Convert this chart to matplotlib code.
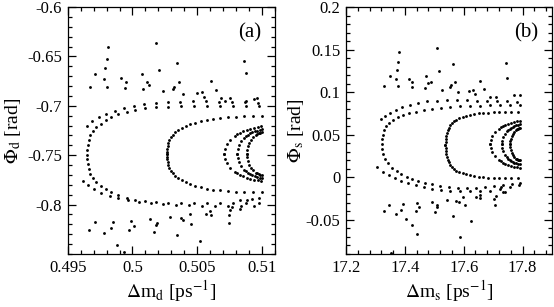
import matplotlib
matplotlib.use("Agg")
import matplotlib.pyplot as plt
from matplotlib.ticker import MultipleLocator, FixedLocator, FixedFormatter

plt.rcParams['font.family'] = ['Liberation Serif', 'DejaVu Serif']
plt.rcParams['mathtext.fontset'] = 'stix'
plt.rcParams['axes.unicode_minus'] = False

# ---------------- panel (a) data ----------------
a_inner_x = [.50977, .50877, .50777, .50677, .50577, .50477, .50377, .50277, .50185, .50100, .50023,
             .49954, .49892, .49838, .49792, .49754, .49719, .49692, .49673, .49662, .49655, .49652,
             .49651,
             .49652, .49655, .49662, .49673, .49692, .49719, .49754, .49792, .49838, .49892, .49954,
             .50023, .50100, .50185, .50277, .50377, .50477, .50577, .50677, .50777, .50877, .50977]
a_inner_y = [-.7005, -.7005, -.7005, -.7005, -.7003, -.7003, -.7005, -.701, -.7015, -.7025, -.704,
             -.706, -.7085, -.7115, -.7145, -.718, -.7215, -.7255, -.730, -.735, -.740, -.745,
             -.7495,
             -.754, -.759, -.764, -.769, -.7735, -.7775, -.781, -.7845, -.7875, -.7905, -.793,
             -.795, -.7965, -.7975, -.798, -.7985, -.7987, -.7987, -.7985, -.7985, -.7985, -.7985]
a_outer_up_x = [.49646, .49687, .49738, .49798, .49862, .49933, .50010, .50092, .50182, .50272,
                .50369, .50469, .50569, .50669, .50769, .50869, .50969]
a_outer_up_y = [-.720, -.7155, -.7115, -.708, -.705, -.7025, -.7003, -.6985, -.697, -.6963,
                -.6958, -.6955, -.6955, -.6958, -.696, -.6965, -.697]
a_outer_lo_x = [.49618, .49654, .49704, .49759, .49823, .49892, .49969, .50054, .50146, .50238,
                .50338, .50438, .50538, .50638, .50738, .50838, .50938]
a_outer_lo_y = [-.776, -.7805, -.7845, -.788, -.791, -.7935, -.7955, -.7972, -.7985, -.7995,
                -.8002, -.8007, -.801, -.8012, -.8013, -.8013, -.8012]
a_mid_x = [.50267, .50268, .50269, .50272, .50277, .50285, .50296, .50312, .50331, .50354, .50381,
           .50412, .50446, .50485, .50527, .50573, .50623, .50677, .50735, .50796, .50862, .50931, .51000]
a_mid_top = [-.749, -.7465, -.744, -.741, -.738, -.735, -.732, -.7295, -.727, -.7245, -.7225,
             -.7205, -.7185, -.717, -.7155, -.7142, -.7132, -.7123, -.7116, -.7111, -.7108, -.7106, -.7105]
a_mid_bot = [-.749, -.7515, -.754, -.757, -.760, -.763, -.766, -.7685, -.771, -.7735, -.7755,
             -.7775, -.7795, -.781, -.7825, -.7838, -.7848, -.7857, -.7864, -.7869, -.7872, -.7874, -.7875]
a_s1_x = [.50708, .50713, .50729, .50754, .50789, .50809, .50832, .50856, .50881, .50908, .50936,
          .50965, .50994]
a_s1_top = [-.7485, -.7436, -.7389, -.7345, -.7305, -.7287, -.7271, -.7256, -.7243, -.7231, -.7222,
            -.7215, -.7209]
a_s1_bot = [-.7485, -.7534, -.7581, -.7625, -.7665, -.7683, -.7699, -.7714, -.7727, -.7739, -.7748,
            -.7755, -.7761]
a_s2_x = [.50810, .50814, .50824, .50841, .50864, .50877, .50892, .50908, .50925, .50943, .50961,
          .50981, .51000]
a_s2_top = [-.7485, -.7442, -.7399, -.7360, -.7324, -.7308, -.7293, -.7280, -.7268, -.7258, -.7250,
            -.7244, -.7239]
a_s2_bot = [-.7485, -.7528, -.7571, -.7610, -.7646, -.7662, -.7677, -.7690, -.7702, -.7712, -.7720,
            -.7726, -.7731]
a_s3_x = [.50882, .50884, .50890, .50901, .50914, .50931, .50951, .50962, .50973, .50984, .50996]
a_s3_top = [-.7485, -.7447, -.7410, -.7375, -.7344, -.7316, -.7294, -.7286, -.7278, -.7272, -.7268]
a_s3_bot = [-.7485, -.7523, -.7560, -.7595, -.7626, -.7654, -.7676, -.7684, -.7692, -.7698, -.7702]
a_sc_up_x = [.49669, .49713, .49810, .49805, .49787, .49777, .49802, .49908, .49949, .49941, .50072,
             .50110, .50128, .50085, .50185, .50208, .50233, .50341, .50356, .50321, .50310, .50387,
             .50608, .50646, .50498, .50533, .50549, .50862, .50875, .50687, .50713, .50752, .50938,
             .50875, .50960]
a_sc_up_y = [-.6807, -.668, -.6407, -.6527, -.6613, -.6733, -.6807, -.672, -.676, -.6817, -.6683,
             -.6763, -.679, -.683, -.636, -.6637, -.6847, -.6563, -.6763, -.6813, -.6833, -.6877,
             -.6753, -.6843, -.687, -.6863, -.6907, -.6547, -.6673, -.692, -.6947, -.6923, -.6933,
             -.6953, -.6925]
a_sc_lo_x = [.49664, .49713, .49777, .49831, .49848, .49882, .49938, .49975, .49987, .50008, .50133,
             .50164, .50182, .50190, .50287, .50341, .50372, .50392, .50444, .50454, .50518, .50564,
             .50608, .50602, .50744, .50746, .50752, .50767, .50828, .50923, .50977, .50833, .50885]
a_sc_lo_y = [-.826, -.818, -.8287, -.824, -.8177, -.8407, -.848, -.8253, -.8167, -.8217, -.8147,
             -.8273, -.8207, -.8183, -.8127, -.831, -.814, -.816, -.8097, -.8193, -.837, -.8097,
             -.8103, -.8063, -.811, -.8187, -.8053, -.8027, -.8043, -.794, -.793, -.7957, -.7957]

# ---------------- panel (b) data ----------------
b_inner_up_x = [17.7898, 17.7559, 17.7220, 17.6881, 17.6542, 17.6203, 17.5864, 17.5525, 17.5220,
                17.4915, 17.4644, 17.4390, 17.4153, 17.3949, 17.3763, 17.3610, 17.3475, 17.3373,
                17.3298, 17.3254, 17.3234, 17.3231]
b_inner_up_y = [.0845, .0845, .0845, .0844, .0842, .0839, .0834, .0825, .0816, .0804, .0790, .0773,
                .0754, .0730, .0705, .0675, .0640, .0599, .0552, .0499, .0447, .0388]
b_inner_lo_x = [17.3237, 17.3264, 17.3322, 17.3424, 17.3559, 17.3719, 17.3881, 17.4068, 17.4254,
                17.4458, 17.4678, 17.4915, 17.5186, 17.5492, 17.5797, 17.6102, 17.6407, 17.6712,
                17.7017, 17.7322, 17.7627, 17.7898]
b_inner_lo_y = [.0329, .0271, .0218, .0165, .0113, .0069, .0036, .0007, -.0016, -.0040, -.0063,
                -.0084, -.0102, -.0114, -.0120, -.0122, -.0120, -.0114, -.0104, -.0093, -.0081, -.0069]
b_outer_up_x = [17.3186, 17.3322, 17.3492, 17.3695, 17.3915, 17.4169, 17.4441, 17.4746, 17.5085,
                17.5424, 17.5763, 17.6102, 17.6441, 17.6780, 17.7119, 17.7458, 17.7797]
b_outer_up_y = [.0681, .0722, .0757, .0793, .0822, .0851, .0875, .0892, .0902, .0904, .0906, .0904,
                .0902, .0898, .0894, .0892, .0889]
b_outer_lo_x = [17.3068, 17.3254, 17.3458, 17.3661, 17.3864, 17.4102, 17.4373, 17.4644, 17.4915,
                17.5220, 17.5525, 17.5864, 17.6203, 17.6542, 17.6881, 17.7220, 17.7559, 17.7864]
b_outer_lo_y = [.0118, .0066, .0025, -.0011, -.0040, -.0067, -.0093, -.0114, -.0134, -.0149, -.0159,
                -.0165, -.0166, -.0163, -.0155, -.0139, -.0116, -.0087]
b_mid_x = [17.5380, 17.5383, 17.5390, 17.5403, 17.5424, 17.5451, 17.5485, 17.5532, 17.5593, 17.5668,
           17.5753, 17.5851, 17.5959, 17.6078, 17.6210, 17.6353, 17.6505, 17.6668, 17.6841, 17.7024,
           17.7214, 17.7414, 17.7620, 17.7831]
b_mid_top = [.0379, .0414, .0449, .0484, .0518, .0551, .0583, .0612, .0637, .0659, .0679, .0695,
             .0709, .0722, .0733, .0742, .0750, .0756, .0761, .0764, .0767, .0769, .0770, .0771]
b_mid_bot = [.0379, .0344, .0309, .0274, .0240, .0207, .0175, .0146, .0121, .0099, .0079, .0063,
             .0049, .0036, .0025, .0016, .0008, .0002, -.0003, -.0006, -.0009, -.0011, -.0012, -.0013]
b_s1_x = [17.6905, 17.6923, 17.6978, 17.7066, 17.7186, 17.7257, 17.7334, 17.7418, 17.7506, 17.7599,
          17.7696, 17.7796, 17.7898]
b_s1_top = [.0388, .0437, .0484, .0529, .0569, .0587, .0603, .0618, .0631, .0643, .0652, .0659, .0665]
b_s1_bot = [.0388, .0339, .0292, .0248, .0207, .0189, .0173, .0158, .0145, .0133, .0124, .0117, .0111]
b_s2_x = [17.7298, 17.7309, 17.7342, 17.7395, 17.7468, 17.7511, 17.7557, 17.7608, 17.7661, 17.7717,
          17.7776, 17.7836, 17.7898]
b_s2_top = [.0388, .0430, .0470, .0508, .0542, .0558, .0572, .0585, .0596, .0606, .0614, .0620, .0624]
b_s2_bot = [.0388, .0346, .0306, .0268, .0234, .0218, .0204, .0191, .0180, .0171, .0163, .0156, .0152]
b_s3_x = [17.7583, 17.7589, 17.7606, 17.7634, 17.7672, 17.7719, 17.7774, 17.7803, 17.7834, 17.7865,
          17.7898]
b_s3_top = [.0388, .0422, .0454, .0485, .0512, .0536, .0555, .0563, .0569, .0574, .0578]
b_s3_bot = [.0388, .0355, .0322, .0291, .0264, .0240, .0221, .0213, .0207, .0202, .0198]
b_sc_up_x = [17.3298, 17.3492, 17.3719, 17.3685, 17.3797, 17.3773, 17.3773, 17.4136, 17.4247, 17.4247,
             17.4712, 17.4790, 17.4905, 17.4701, 17.5108, 17.5163, 17.5264, 17.5525, 17.5583, 17.5637,
             17.5695, 17.5807, 17.6169, 17.6315, 17.6373, 17.6566, 17.6688, 17.6881, 17.7085, 17.7447,
             17.7481, 17.7705, 17.7900]
b_sc_up_y = [.1074, .1191, .1261, .1152, .1469, .1359, .1074, .1159, .1121, .1059, .1191, .1106,
             .1124, .1047, .1523, .1250, .1027, .1059, .1086, .1328, .1124, .1007, .1019, .1027,
             .0980, .1132, .1035, .0948, .0948, .1340, .1164, .0968, .0967]
b_sc_lo_x = [17.3458, 17.3288, 17.3685, 17.3875, 17.3932, 17.4044, 17.4247, 17.4363, 17.4417, 17.4485,
             17.4407, 17.4925, 17.5017, 17.5095, 17.5085, 17.5434, 17.5637, 17.5753, 17.5831, 17.5888,
             17.5976, 17.6034, 17.6261, 17.6417, 17.6542, 17.6566, 17.7041, 17.7051, 17.7108, 17.7332,
             17.7278, 17.7390, 17.3525]
b_sc_lo_y = [-.0321, -.0400, -.0430, -.0380, -.0313, -.0489, -.0564, -.0392, -.0301, -.0353,
             -.0665, -.0290, -.0412, -.0321, -.0348, -.0263, -.0450, -.0283, -.0294, -.0705,
             -.0231, -.0329, -.0517, -.0231, -.0204, -.0243, -.0251, -.0329, -.0224, -.0177,
             -.0114, -.0177, -.0890]

# ---------------- axes / ticks ----------------
a_xticks = [0.495, 0.5, 0.505, 0.51]
a_xlabels = ["0.495", "0.5", "0.505", "0.51"]
a_yticks = [-0.8, -0.75, -0.7, -0.65, -0.6]
a_ylabels = ["-0.8", "-0.75", "-0.7", "-0.65", "-0.6"]
b_xticks = [17.2, 17.4, 17.6, 17.8]
b_xlabels = ["17.2", "17.4", "17.6", "17.8"]
b_yticks = [-0.05, 0.0, 0.05, 0.1, 0.15, 0.2]
b_ylabels = ["-0.05", "0", "0.05", "0.1", "0.15", "0.2"]

W, H = 554, 307
fig = plt.figure(figsize=(W / 100, H / 100), dpi=100)
ax1 = fig.add_axes([67.7 / W, 53 / H, 207.3 / W, 247 / H])
ax2 = fig.add_axes([346 / W, 53 / H, 206 / W, 247 / H])

S = 4.2
def dots(ax, x, y):
    ax.scatter(x, y, s=S, c='black', marker='o', linewidths=0, clip_on=True)

for x, y in [(a_inner_x, a_inner_y), (a_outer_up_x, a_outer_up_y), (a_outer_lo_x, a_outer_lo_y),
             (a_mid_x, a_mid_top), (a_mid_x, a_mid_bot),
             (a_s1_x, a_s1_top), (a_s1_x, a_s1_bot), (a_s2_x, a_s2_top), (a_s2_x, a_s2_bot),
             (a_s3_x, a_s3_top), (a_s3_x, a_s3_bot),
             (a_sc_up_x, a_sc_up_y), (a_sc_lo_x, a_sc_lo_y)]:
    dots(ax1, x, y)

for x, y in [(b_inner_up_x, b_inner_up_y), (b_inner_lo_x, b_inner_lo_y),
             (b_outer_up_x, b_outer_up_y), (b_outer_lo_x, b_outer_lo_y),
             (b_mid_x, b_mid_top), (b_mid_x, b_mid_bot),
             (b_s1_x, b_s1_top), (b_s1_x, b_s1_bot), (b_s2_x, b_s2_top), (b_s2_x, b_s2_bot),
             (b_s3_x, b_s3_top), (b_s3_x, b_s3_bot),
             (b_sc_up_x, b_sc_up_y), (b_sc_lo_x, b_sc_lo_y)]:
    dots(ax2, x, y)

ax1.set_xlim(0.495, 0.511)
ax1.set_ylim(-0.85, -0.6)
ax2.set_xlim(17.2, 17.9)
ax2.set_ylim(-0.09, 0.2)

def style(ax, xt, xl, yt, yl, xminor, yminor):
    ax.xaxis.set_major_locator(FixedLocator(xt))
    ax.xaxis.set_major_formatter(FixedFormatter(xl))
    ax.yaxis.set_major_locator(FixedLocator(yt))
    ax.yaxis.set_major_formatter(FixedFormatter(yl))
    ax.xaxis.set_minor_locator(MultipleLocator(xminor))
    ax.yaxis.set_minor_locator(MultipleLocator(yminor))
    ax.tick_params(which='both', direction='in', top=True, right=True, width=0.9, color='black')
    ax.tick_params(which='major', length=6, labelsize=12, pad=4)
    ax.tick_params(which='minor', length=3)
    for sp in ax.spines.values():
        sp.set_linewidth(0.9)

style(ax1, a_xticks, a_xlabels, a_yticks, a_ylabels, 0.001, 0.01)
style(ax2, b_xticks, b_xlabels, b_yticks, b_ylabels, 0.04, 0.01)

ax1.set_xlabel(r'$\Delta$m$_\mathrm{d}$ [ps$^{\mathrm{-1}}$]', fontsize=14, labelpad=2)
ax1.set_ylabel(r'$\Phi_\mathrm{d}$ [rad]', fontsize=14, labelpad=3)
ax2.set_xlabel(r'$\Delta$m$_\mathrm{s}$ [ps$^{\mathrm{-1}}$]', fontsize=14, labelpad=2)
ax2.set_ylabel(r'$\Phi_\mathrm{s}$ [rad]', fontsize=14, labelpad=0)

ax1.text(0.88, 0.895, '(a)', transform=ax1.transAxes, fontsize=15, ha='center', va='center')
ax2.text(0.877, 0.895, '(b)', transform=ax2.transAxes, fontsize=15, ha='center', va='center')

fig.savefig('out.png', dpi=100)
